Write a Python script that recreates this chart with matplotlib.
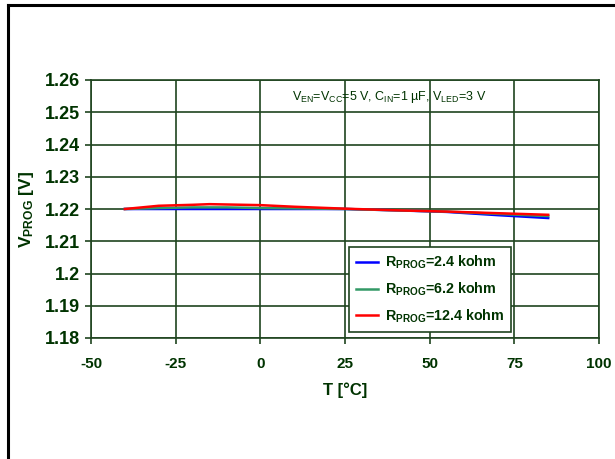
import numpy as np
from matplotlib import pyplot as plt
from matplotlib.lines import Line2D

plt.rcParams['font.family'] = ['Liberation Sans', 'DejaVu Sans']
plt.rcParams['mathtext.fontset'] = 'custom'
plt.rcParams['mathtext.rm'] = 'Liberation Sans'
plt.rcParams['mathtext.bf'] = 'Liberation Sans:bold'
plt.rcParams['mathtext.it'] = 'Liberation Sans:italic'
plt.rcParams['axes.unicode_minus'] = False

# Температура, °C
temp = [-40, -30, -20, -15, -10, 0, 10, 25, 40, 55, 70, 85]
# V_PROG для разных R_PROG
v_24k = [1.2200, 1.2200, 1.2200, 1.2200, 1.2200, 1.2200, 1.2200, 1.2200, 1.2196, 1.2191, 1.2181, 1.2172]
v_62k = [1.2200, 1.2203, 1.2205, 1.2205, 1.2205, 1.2203, 1.2202, 1.2200, 1.2196, 1.2192, 1.2185, 1.2178]
v_124k = [1.2200, 1.2210, 1.2213, 1.2215, 1.2214, 1.2212, 1.2207, 1.2201, 1.2196, 1.2192, 1.2187, 1.2182]

labels = [r'R$_{\mathbf{PROG}}$=2.4 kohm', r'R$_{\mathbf{PROG}}$=6.2 kohm', r'R$_{\mathbf{PROG}}$=12.4 kohm']
colors = ['#0000ff', '#339966', '#ff0000']

x_ticks = [-50, -25, 0, 25, 50, 75, 100]
y_ticks = [1.18, 1.19, 1.2, 1.21, 1.22, 1.23, 1.24, 1.25, 1.26]
y_tick_labels = ['1.18', '1.19', '1.2', '1.21', '1.22', '1.23', '1.24', '1.25', '1.26']

dark = '#003300'
grid_c = '#1f441f'

fig = plt.figure(figsize=(6.15, 4.59), dpi=100)
ax = fig.add_axes([91 / 615, 1 - 338 / 459, 508 / 615, 258 / 459])

for vals, lab, col in zip([v_24k, v_62k, v_124k], labels, colors):
    ax.plot(temp, vals, color=col, lw=1.8, label=lab)

ax.set_xlim(-50, 100)
ax.set_ylim(1.18, 1.26)
ax.set_xticks(x_ticks)
ax.set_yticks(y_ticks)
ax.set_yticklabels(y_tick_labels)
ax.grid(True, color=grid_c, lw=1.2)
ax.set_axisbelow(True)
for s in ax.spines.values():
    s.set_color(grid_c)
    s.set_linewidth(1.2)
ax.tick_params(direction='out', length=4, color=grid_c, width=1.2)
ax.tick_params(axis='x', labelsize=11, pad=10)
ax.tick_params(axis='y', labelsize=13, pad=4)
for t in ax.get_xticklabels() + ax.get_yticklabels():
    t.set_fontweight('bold')
    t.set_color(dark)

ax.set_xlabel('T [°C]', fontsize=12, fontweight='bold', color=dark, labelpad=8)
ax.set_ylabel(r'V$_{\mathbf{PROG}}$ [V]', fontsize=12.5, fontweight='bold', color=dark, labelpad=6)

ax.text(38, 1.2547, r'V$_{\mathrm{EN}}$=V$_{\mathrm{CC}}$=5 V, C$_{\mathrm{IN}}$=1 µF, V$_{\mathrm{LED}}$=3 V',
        fontsize=9, color=dark, ha='center', va='center')

leg = ax.legend(loc='upper left', bbox_to_anchor=(0.508, 0.353), fancybox=False, framealpha=1,
                edgecolor=grid_c, fontsize=10.3, handlelength=1.5, handletextpad=0.5,
                labelspacing=0.65, borderpad=0.5, borderaxespad=0)
leg.get_frame().set_linewidth(1.2)
for t in leg.get_texts():
    t.set_fontweight('bold')
    t.set_color(dark)

# Внешняя рамка
fig.add_artist(Line2D([7.5 / 615, 7.5 / 615], [0, 1 - 5 / 459], color='black', lw=2.2))
fig.add_artist(Line2D([7.5 / 615, 1], [1 - 5 / 459, 1 - 5 / 459], color='black', lw=2.2))

fig.savefig('out.png', dpi=100)
